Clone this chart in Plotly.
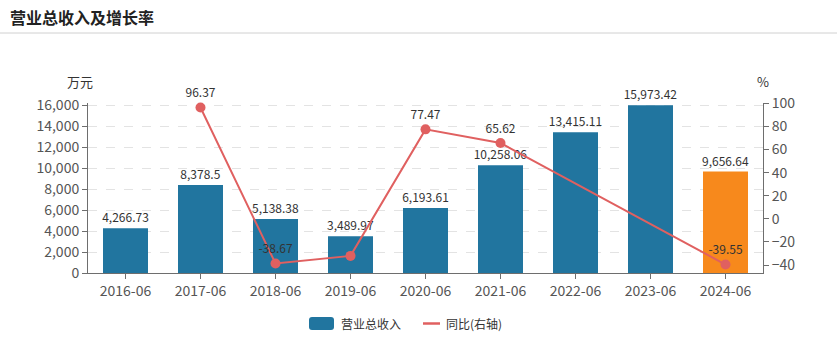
import plotly.graph_objects as go

# ---- data ----
periods = ["2016-06", "2017-06", "2018-06", "2019-06", "2020-06",
           "2021-06", "2022-06", "2023-06", "2024-06"]
revenue = [4266.73, 8378.5, 5138.38, 3489.97, 6193.61,
           10258.06, 13415.11, 15973.42, 9656.64]
yoy = [None, 96.37, -38.67, -32.08, 77.47, 65.62, None, None, -39.55]
yoy_labels = ["", "96.37", "-38.67", "", "77.47", "65.62", "", "", "-39.55"]

# ---- styling ----
W, H = 837, 339
L, R, T, B = 88, 74, 103, 66
PW, PH = W - L - R, H - T - B
FONT = "Noto Sans CJK SC, Microsoft YaHei, sans-serif"
BLUE = "#21759f"
ORANGE = "#f7891c"
RED = "#e06060"
TXT = "#333333"
AX = "#6e6e6e"

bar_colors = [BLUE] * (len(periods) - 1) + [ORANGE]


def px_x(x):
    return (x - L) / PW


def px_y(y):
    return (H - B - y) / PH


fig = go.Figure()

fig.add_trace(go.Bar(
    x=periods, y=revenue, name="营业总收入",
    marker=dict(color=bar_colors, line=dict(width=0)),
    width=0.6,
    text=[f"{v:,}" for v in revenue],
    textposition="outside",
    constraintext="none",
    textfont=dict(size=12, color=TXT, family=FONT),
    cliponaxis=False,
    showlegend=False,
))

fig.add_trace(go.Scatter(
    x=periods, y=yoy, name="同比(右轴)", yaxis="y2",
    mode="lines+markers+text",
    connectgaps=True,
    line=dict(color=RED, width=2),
    marker=dict(color=RED, size=10),
    text=yoy_labels,
    textposition="top center",
    textfont=dict(size=12, color=TXT, family=FONT),
    cliponaxis=False,
    showlegend=False,
))

shapes = [
    # header separator
    dict(type="line", xref="paper", yref="paper",
         x0=px_x(0), x1=px_x(W), y0=px_y(33), y1=px_y(33),
         line=dict(color="#d0d0d0", width=1)),
    # legend swatches
    dict(type="path", xref="paper", yref="paper",
         path=(f"M {px_x(312)},{px_y(317)} L {px_x(331)},{px_y(317)} "
               f"Q {px_x(334)},{px_y(317)} {px_x(334)},{px_y(320)} "
               f"L {px_x(334)},{px_y(327)} Q {px_x(334)},{px_y(330)} {px_x(331)},{px_y(330)} "
               f"L {px_x(312)},{px_y(330)} Q {px_x(309)},{px_y(330)} {px_x(309)},{px_y(327)} "
               f"L {px_x(309)},{px_y(320)} Q {px_x(309)},{px_y(317)} {px_x(312)},{px_y(317)} Z"),
         fillcolor=BLUE, line=dict(width=0)),
    dict(type="line", xref="paper", yref="paper",
         x0=px_x(423), x1=px_x(440), y0=px_y(323.5), y1=px_y(323.5),
         line=dict(color=RED, width=2.5)),
]

annotations = [
    dict(text="<b>营业总收入及增长率</b>", xref="paper", yref="paper",
         x=px_x(8), y=px_y(17), xanchor="left", yanchor="middle",
         showarrow=False, font=dict(size=16, color="#222", family=FONT)),
    dict(text="万元", xref="paper", yref="paper",
         x=px_x(80), y=px_y(81), xanchor="center", yanchor="middle",
         showarrow=False, font=dict(size=13, color=TXT, family=FONT)),
    dict(text="%", xref="paper", yref="paper",
         x=px_x(763), y=px_y(81), xanchor="center", yanchor="middle",
         showarrow=False, font=dict(size=13, color=TXT, family=FONT)),
    dict(text="营业总收入", xref="paper", yref="paper",
         x=px_x(339), y=px_y(323.5), xanchor="left", yanchor="middle",
         showarrow=False, font=dict(size=12, color=TXT, family=FONT)),
    dict(text="同比(右轴)", xref="paper", yref="paper",
         x=px_x(444), y=px_y(323.5), xanchor="left", yanchor="middle",
         showarrow=False, font=dict(size=12, color=TXT, family=FONT)),
]

fig.update_layout(
    width=W, height=H,
    margin=dict(l=L, r=R, t=T, b=B, pad=0),
    paper_bgcolor="white", plot_bgcolor="white",
    font=dict(family=FONT, color=TXT),
    bargap=0.4,
    showlegend=False,
    shapes=shapes,
    annotations=annotations,
    xaxis=dict(
        type="category", showgrid=False,
        showline=True, linecolor=AX, linewidth=1,
        ticks="outside", ticklen=5, tickcolor=AX,
        tickfont=dict(size=14, color="#555", family=FONT),
        range=[-0.5, len(periods) - 0.5],
    ),
    yaxis=dict(
        range=[0, 16190],
        tickvals=[0, 2000, 4000, 6000, 8000, 10000, 12000, 14000, 16000],
        tickformat=",d",
        showgrid=True, gridcolor="#e3e3e3", griddash="dash", gridwidth=1,
        showline=True, linecolor=AX, linewidth=1,
        ticks="outside", ticklen=5, tickcolor=AX,
        tickfont=dict(size=14, color="#555", family=FONT),
        zeroline=False,
    ),
    yaxis2=dict(
        overlaying="y", side="right",
        range=[-46.9, 100.3],
        tickvals=[-40, -20, 0, 20, 40, 60, 80, 100],
        showgrid=False, zeroline=False,
        showline=True, linecolor=AX, linewidth=1,
        ticks="outside", ticklen=5, tickcolor=AX,
        tickfont=dict(size=14, color="#555", family=FONT),
    ),
)

fig.write_html("out.html")
